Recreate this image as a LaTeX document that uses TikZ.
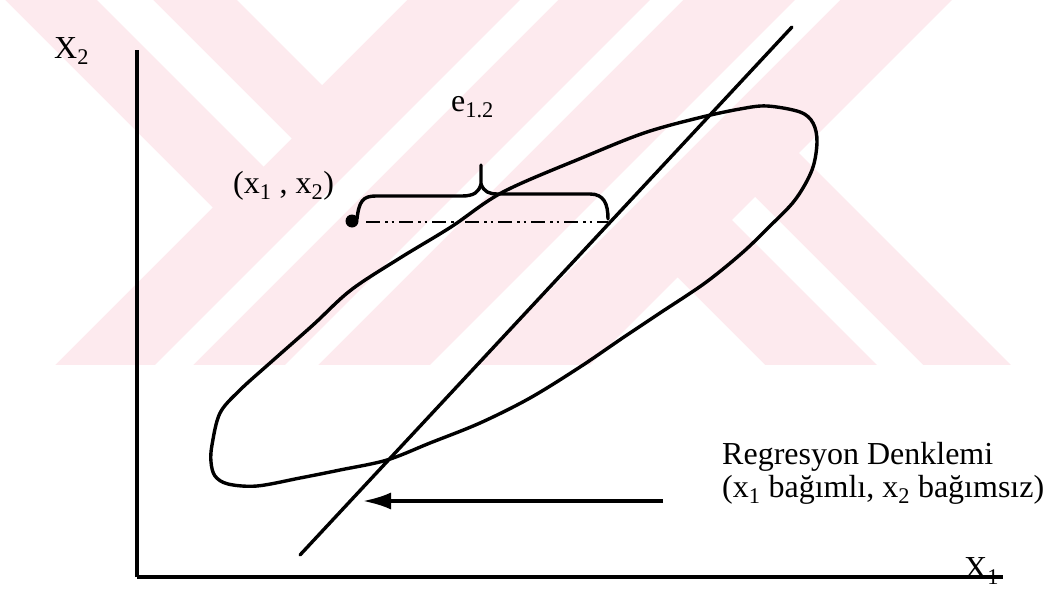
\documentclass[tikz,border=0pt]{standalone}
\usepackage{fontspec}
\setmainfont{Liberation Serif}
\usetikzlibrary{arrows.meta}
\definecolor{wm}{RGB}{253,234,238}
\begin{document}
\begin{tikzpicture}[x=1pt,y=-1pt,
  lbl/.style={anchor=base west, inner sep=0pt, font=\fontsize{32}{35}\selectfont},
  ink/.style={line width=3.4pt, line cap=round, line join=round},
  axisline/.style={line width=4pt},
  wmhole/.style={fill=white, draw=none}]
\useasboundingbox (0,0) rectangle (1053,589);
% watermark
\fill[wm] (0,0) rectangle (1053,365);
\fill[wmhole] (0,0) -- (5,0) -- (212.5,207.5) -- (55,365) -- (0,365) -- cycle;
\fill[wmhole] (97,0) -- (153,0) -- (291.5,138.5) -- (263.5,166.5) -- cycle;
\fill[wmhole] (237,0) -- (407,0) -- (322,85) -- cycle;
\fill[wmhole] (520,0) -- (558,0) -- (193,365) -- (155,365) -- cycle;
\fill[wmhole] (650,0) -- (683,0) -- (318,365) -- (285,365) -- cycle;
\fill[wmhole] (795,0) -- (840,0) -- (475,365) -- (430,365) -- cycle;
\fill[wmhole] (952,0) -- (1053,0) -- (1053,365) -- (1011,365) -- (799,153) -- cycle;
\fill[wmhole] (732,220) -- (755,197) -- (923,365) -- (877,365) -- cycle;
\fill[wmhole] (677.5,277.5) -- (765,365) -- (590,365) -- cycle;
% axes
\coordinate (origin) at (137,577);
\coordinate (ytop) at (137,50);
\coordinate (xend) at (1003,577);
\draw[axisline] (origin) -- (ytop);
\draw[axisline] (origin) -- (xend);
\node[lbl] (x2lab) at (54,58) {X\textsubscript{2}};
\node[lbl] (x1lab) at (964,578) {X\textsubscript{1}};
% regression line
\coordinate (rlow) at (300,555);
\coordinate (rhigh) at (792,27);
\draw[ink] (rlow) -- (rhigh);
% ellipse
\draw[ink] plot[smooth cycle, tension=0.55] coordinates {
 (212,445) (220,413) (240,390) (270,363) (313,325) (351,290) (400,258)
 (451,227) (503,192) (584,157) (644,133) (698,118) (740,109) (767,106)
 (800,112) (813,123) (817,142) (812,170) (795,200) (769,227) (742,253)
 (705,283) (660,313) (624,337) (580,367) (530,398) (480,423) (430,443)
 (387,460) (340,470) (300,478) (257,486) (228,484) (215,476) (211,462)};
% point and residual
\coordinate (pt) at (352,221);
\fill (pt) circle (6.5);
\coordinate (onreg) at (608,222);
\draw[line width=2.8pt, dash pattern=on 14pt off 5pt on 2.5pt off 4pt on 2.5pt off 5pt] (pt) ++(14,1) -- (onreg);
\node[lbl] (ptlab) at (233,193) {(x\textsubscript{1} , x\textsubscript{2})};
% brace
\draw[ink] (357,219) .. controls (359,201) and (363,196) .. (376,196) -- (462,196)
  .. controls (474,196) and (479,192) .. (481,184) -- (481,165);
\draw[ink] (481,184) .. controls (484,192) and (489,194) .. (498,194) -- (590,194)
  .. controls (604,194) and (608,204) .. (608,219);
\node[lbl] (elab) at (451,111) {e\textsubscript{1.2}};
% regression equation label and arrow
\node[lbl] (eq1) at (722,464) {Regresyon Denklemi};
\node[lbl] (eq2) at (722,497) {(x\textsubscript{1} bağımlı, x\textsubscript{2} bağımsız)};
\coordinate (astart) at (663,501);
\coordinate (atip) at (363,501);
\draw[line width=3.2pt, -{Latex[length=28pt,width=17pt]}] (astart) -- (atip);
\end{tikzpicture}
\end{document}
